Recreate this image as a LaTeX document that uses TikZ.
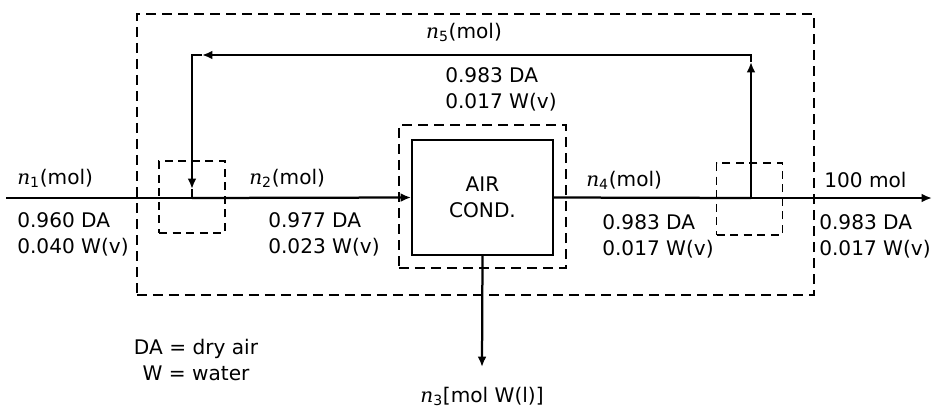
\documentclass[tikz,border=0pt]{standalone}
\usepackage{fontspec}
\setmainfont{DejaVu Sans}
\newfontfamily\varfont{DejaVu Serif}
\newcommand{\nvar}[1]{{\varfont\itshape n}\textsubscript{#1}}
\usepackage{tikz}
\usetikzlibrary{positioning, arrows.meta, calc}

\begin{document}
\begin{tikzpicture}[x=0.025cm, y=-0.025cm,
    font=\fontsize{14.3}{18.5}\selectfont,
    flow/.style={line width=1.6pt, line join=miter},
    flowarrow/.style={-{Latex[length=2.6mm,width=2.2mm]}},
    envelope/.style={draw, dash pattern=on 2.4mm off 1.6mm, line width=0.9pt, inner sep=0pt},
    unit/.style={draw, line width=1.3pt, minimum width=3.525cm, minimum height=2.875cm, align=center, inner sep=0pt},
    junction/.style={draw, dash pattern=on 2mm off 1.4mm, line width=0.9pt, minimum width=1.65cm, minimum height=1.8cm, inner sep=0pt},
    lbl/.style={inner sep=0pt, anchor=base west},
    comp/.style={inner sep=0pt, anchor=north west, align=left}]
    \useasboundingbox (0,0) rectangle (933,409);

    \node[envelope, minimum width=16.925cm, minimum height=7.025cm] (system) at (475.5,154.5) {};
    \node[envelope, minimum width=4.175cm, minimum height=3.575cm] (unitenv) at (482.5,196.5) {};
    \node[unit] (aircond) at (482.5,197.5) {AIR\\COND.};
    \node[junction] (mix) at (192,197) {};
    \node[junction] (split) at (749.5,199) {};

    \coordinate (feed) at (6,198);
    \coordinate (mixpt) at (192,198);
    \coordinate (splitpt) at (751,198);
    \coordinate (product) at (932,198);
    \coordinate (splittop) at (751,55);
    \coordinate (mixtop) at (192,55);
    \coordinate (recup) at (751,62);
    \coordinate (recleft) at (202,55);
    \coordinate (recdown) at (192,189);
    \coordinate (condensate) at (482,367);

    \draw[flow] (feed) -- (mixpt);
    \draw[flow, flowarrow] (mixpt) -- (aircond.west);
    \draw[flow] (aircond.east) -- (splitpt);
    \draw[flow, flowarrow] (splitpt) -- (product);
    \draw[flow, flowarrow] (splitpt) -- (recup);
    \draw[flow, flowarrow] (recup) -- (splittop) -- (recleft);
    \draw[flow, flowarrow] (recleft) -- (mixtop) -- (recdown);
    \draw[flow] (recdown) -- (mixpt);
    \draw[flow, flowarrow] (aircond.south) -- (condensate);

    \node[lbl] (n1) at (17,184) {\nvar{1}(mol)};
    \node[comp] (s1) at (17,212) {0.960 DA\\0.040 W(v)};
    \node[lbl] (n2) at (249,184) {\nvar{2}(mol)};
    \node[comp] (s2) at (268,212) {0.977 DA\\0.023 W(v)};
    \node[lbl] (n4) at (586,186) {\nvar{4}(mol)};
    \node[comp] (s4) at (602,214) {0.983 DA\\0.017 W(v)};
    \node[lbl] (n6) at (824,187) {100 mol};
    \node[comp] (s6) at (819,214) {0.983 DA\\0.017 W(v)};
    \node[inner sep=0pt, anchor=base] (n5) at (464,38) {\nvar{5}(mol)};
    \node[comp] (s5) at (445,67) {0.983 DA\\0.017 W(v)};
    \node[inner sep=0pt, anchor=base] (n3) at (482,402) {\nvar{3}[mol W(l)]};
    \node[inner sep=0pt, anchor=north, align=center] (legend) at (196,339) {DA = dry air\\W = water};
\end{tikzpicture}
\end{document}
